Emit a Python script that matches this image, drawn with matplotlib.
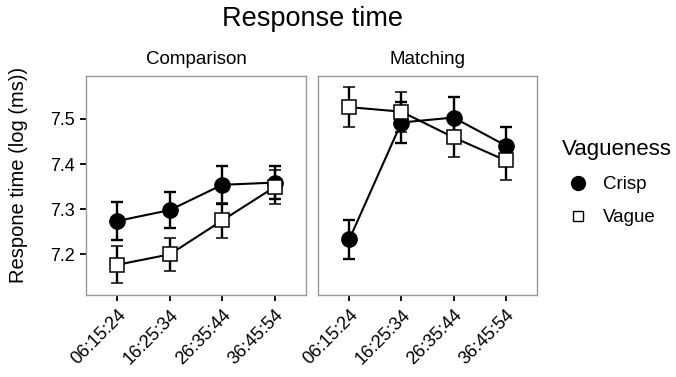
import matplotlib

matplotlib.use("Agg")
import matplotlib.pyplot as plt
from matplotlib.lines import Line2D

plt.rcParams["font.family"] = ["Liberation Sans", "DejaVu Sans"]

conditions = ["06:15:24", "16:25:34", "26:35:44", "36:45:54"]
panels = ["Comparison", "Matching"]

# mean log response time and error half-widths, per panel
crisp_mean = {
    "Comparison": [7.274, 7.298, 7.354, 7.359],
    "Matching": [7.233, 7.492, 7.503, 7.441],
}
crisp_err = {
    "Comparison": [0.043, 0.040, 0.042, 0.037],
    "Matching": [0.043, 0.045, 0.046, 0.042],
}
vague_mean = {
    "Comparison": [7.177, 7.200, 7.275, 7.349],
    "Matching": [7.526, 7.516, 7.459, 7.408],
}
vague_err = {
    "Comparison": [0.041, 0.036, 0.038, 0.037],
    "Matching": [0.044, 0.044, 0.043, 0.044],
}

fig = plt.figure(figsize=(6.76, 3.77), dpi=100)
W, H = 676, 377
axes = [
    fig.add_axes([86 / W, 1 - 295 / H, 220 / W, 219 / H]),
    fig.add_axes([318 / W, 1 - 295 / H, 219 / W, 219 / H]),
]

x = list(range(len(conditions)))
for ax, panel in zip(axes, panels):
    ax.errorbar(x, crisp_mean[panel], yerr=crisp_err[panel], color="black",
                lw=1.5, elinewidth=1.7, capsize=4.5, capthick=1.7,
                marker="o", ms=11, mfc="black", mec="black", zorder=3)
    ax.errorbar(x, vague_mean[panel], yerr=vague_err[panel], color="black",
                lw=1.5, elinewidth=1.7, capsize=4.5, capthick=1.7,
                marker="s", ms=9.5, mfc="white", mec="black", mew=1.1, zorder=4)
    ax.set_xlim(-0.6, 3.6)
    ax.set_ylim(7.110, 7.595)
    ax.set_xticks(x)
    ax.set_xticklabels(conditions, rotation=45, ha="right", rotation_mode="anchor",
                       fontsize=13)
    ax.set_yticks([7.2, 7.3, 7.4, 7.5])
    ax.tick_params(direction="out", length=4, width=1.3, color="black", pad=4)
    for s in ax.spines.values():
        s.set_color("#999999")
        s.set_linewidth(1.0)
    ax.set_title(panel, fontsize=13.5, pad=8.5)

axes[0].set_yticklabels(["7.2", "7.3", "7.4", "7.5"], fontsize=13)
axes[1].tick_params(axis="y", left=False, labelleft=False)
axes[0].set_ylabel("Respone time (log (ms))", fontsize=14.5)
axes[0].yaxis.set_label_coords(-0.265, 0.55)

fig.text(312 / W, 1 - 19 / H, "Response time", ha="center", va="center", fontsize=19.5)

handles = [
    Line2D([], [], ls="none", marker="o", ms=10, mfc="black", mec="black"),
    Line2D([], [], ls="none", marker="s", ms=7.5, mfc="white", mec="black", mew=1.0),
]
leg = fig.legend(handles, ["Crisp", "Vague"], title="Vagueness",
                 loc="upper left", bbox_to_anchor=(551 / W, 1 - 128 / H),
                 frameon=False, fontsize=13.5, title_fontsize=16,
                 handlelength=1.7, handletextpad=0.45, labelspacing=0.85,
                 alignment="left", borderaxespad=0.2)

fig.savefig("out.png", dpi=100)
